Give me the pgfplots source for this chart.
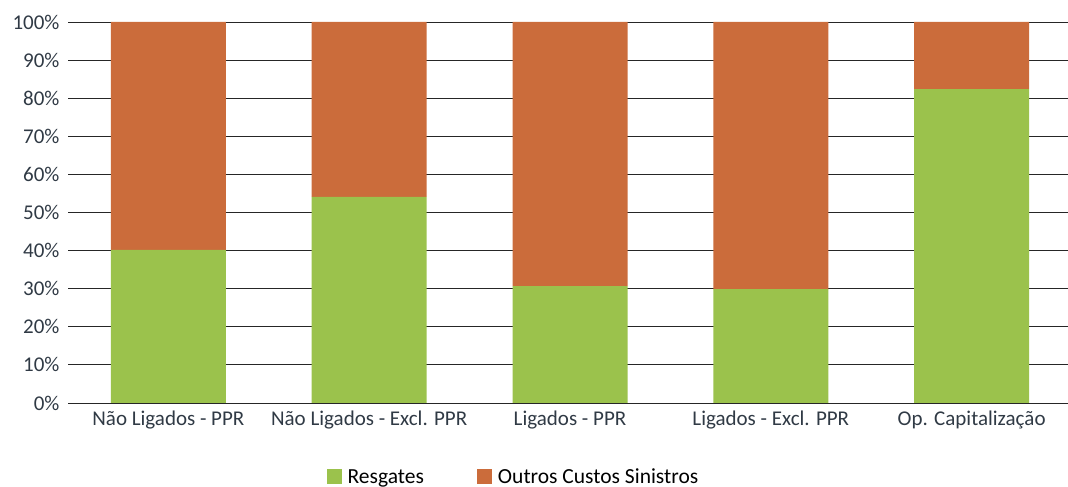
\documentclass[border=0pt]{standalone}
\usepackage{pgfplots}
\pgfplotsset{compat=1.18}
\usepackage{fontspec}
\setmainfont{Carlito}
\definecolor{resg}{HTML}{9BC24C}
\definecolor{outros}{HTML}{CB6C3B}
\definecolor{lbl}{HTML}{303A45}
\definecolor{gridc}{HTML}{262626}

\begin{document}
\begin{tikzpicture}
\begin{axis}[
  scale only axis, width=1000pt, height=381pt,
  ybar stacked, bar width=115pt,
  xmin=-0.5, xmax=4.48, ymin=0, ymax=100,
  xtick={0,1,2,3,4},
  xticklabels={Não Ligados - PPR,Não Ligados - Excl. PPR,Ligados - PPR,Ligados - Excl. PPR,Op. Capitalização},
  ytick={0,10,...,100},
  yticklabel={\pgfmathprintnumber{\tick}\%},
  /pgf/number format/assume math mode=true,
  axis x line*=bottom, axis y line*=left,
  y axis line style={draw=none},
  x axis line style={draw=gridc, line width=0.9pt},
  ymajorgrids, grid style={draw=gridc, line width=0.9pt},
  tick style={draw=none}, major tick length=0pt,
  ticklabel style={font=\fontsize{21}{25}\selectfont, text=lbl},
  yticklabel style={xshift=-5pt},
  xticklabel style={yshift=-4pt},
  legend style={at={(0.4455,-0.194)}, anchor=center, legend columns=2, draw=none,
    font=\fontsize{21.5}{25}\selectfont, text=black,
    /tikz/every odd column/.append style={column sep=4pt},
    /tikz/every even column/.append style={column sep=51pt}},
]
\addplot[fill=resg, draw=none,
  legend image code/.code={\fill[resg] (0pt,-7.5pt) rectangle (15pt,7.5pt);}]
  coordinates {(0,40.2) (1,54.1) (2,30.7) (3,29.9) (4,82.4)};
\addplot[fill=outros, draw=none,
  legend image code/.code={\fill[outros] (0pt,-7.5pt) rectangle (15pt,7.5pt);}]
  coordinates {(0,59.8) (1,45.9) (2,69.3) (3,70.1) (4,17.6)};
\legend{Resgates,Outros Custos Sinistros}
\end{axis}
\pgfresetboundingbox
\path[use as bounding box] (-68pt,-84pt) rectangle (1000pt,403pt);
\end{tikzpicture}
\end{document}
